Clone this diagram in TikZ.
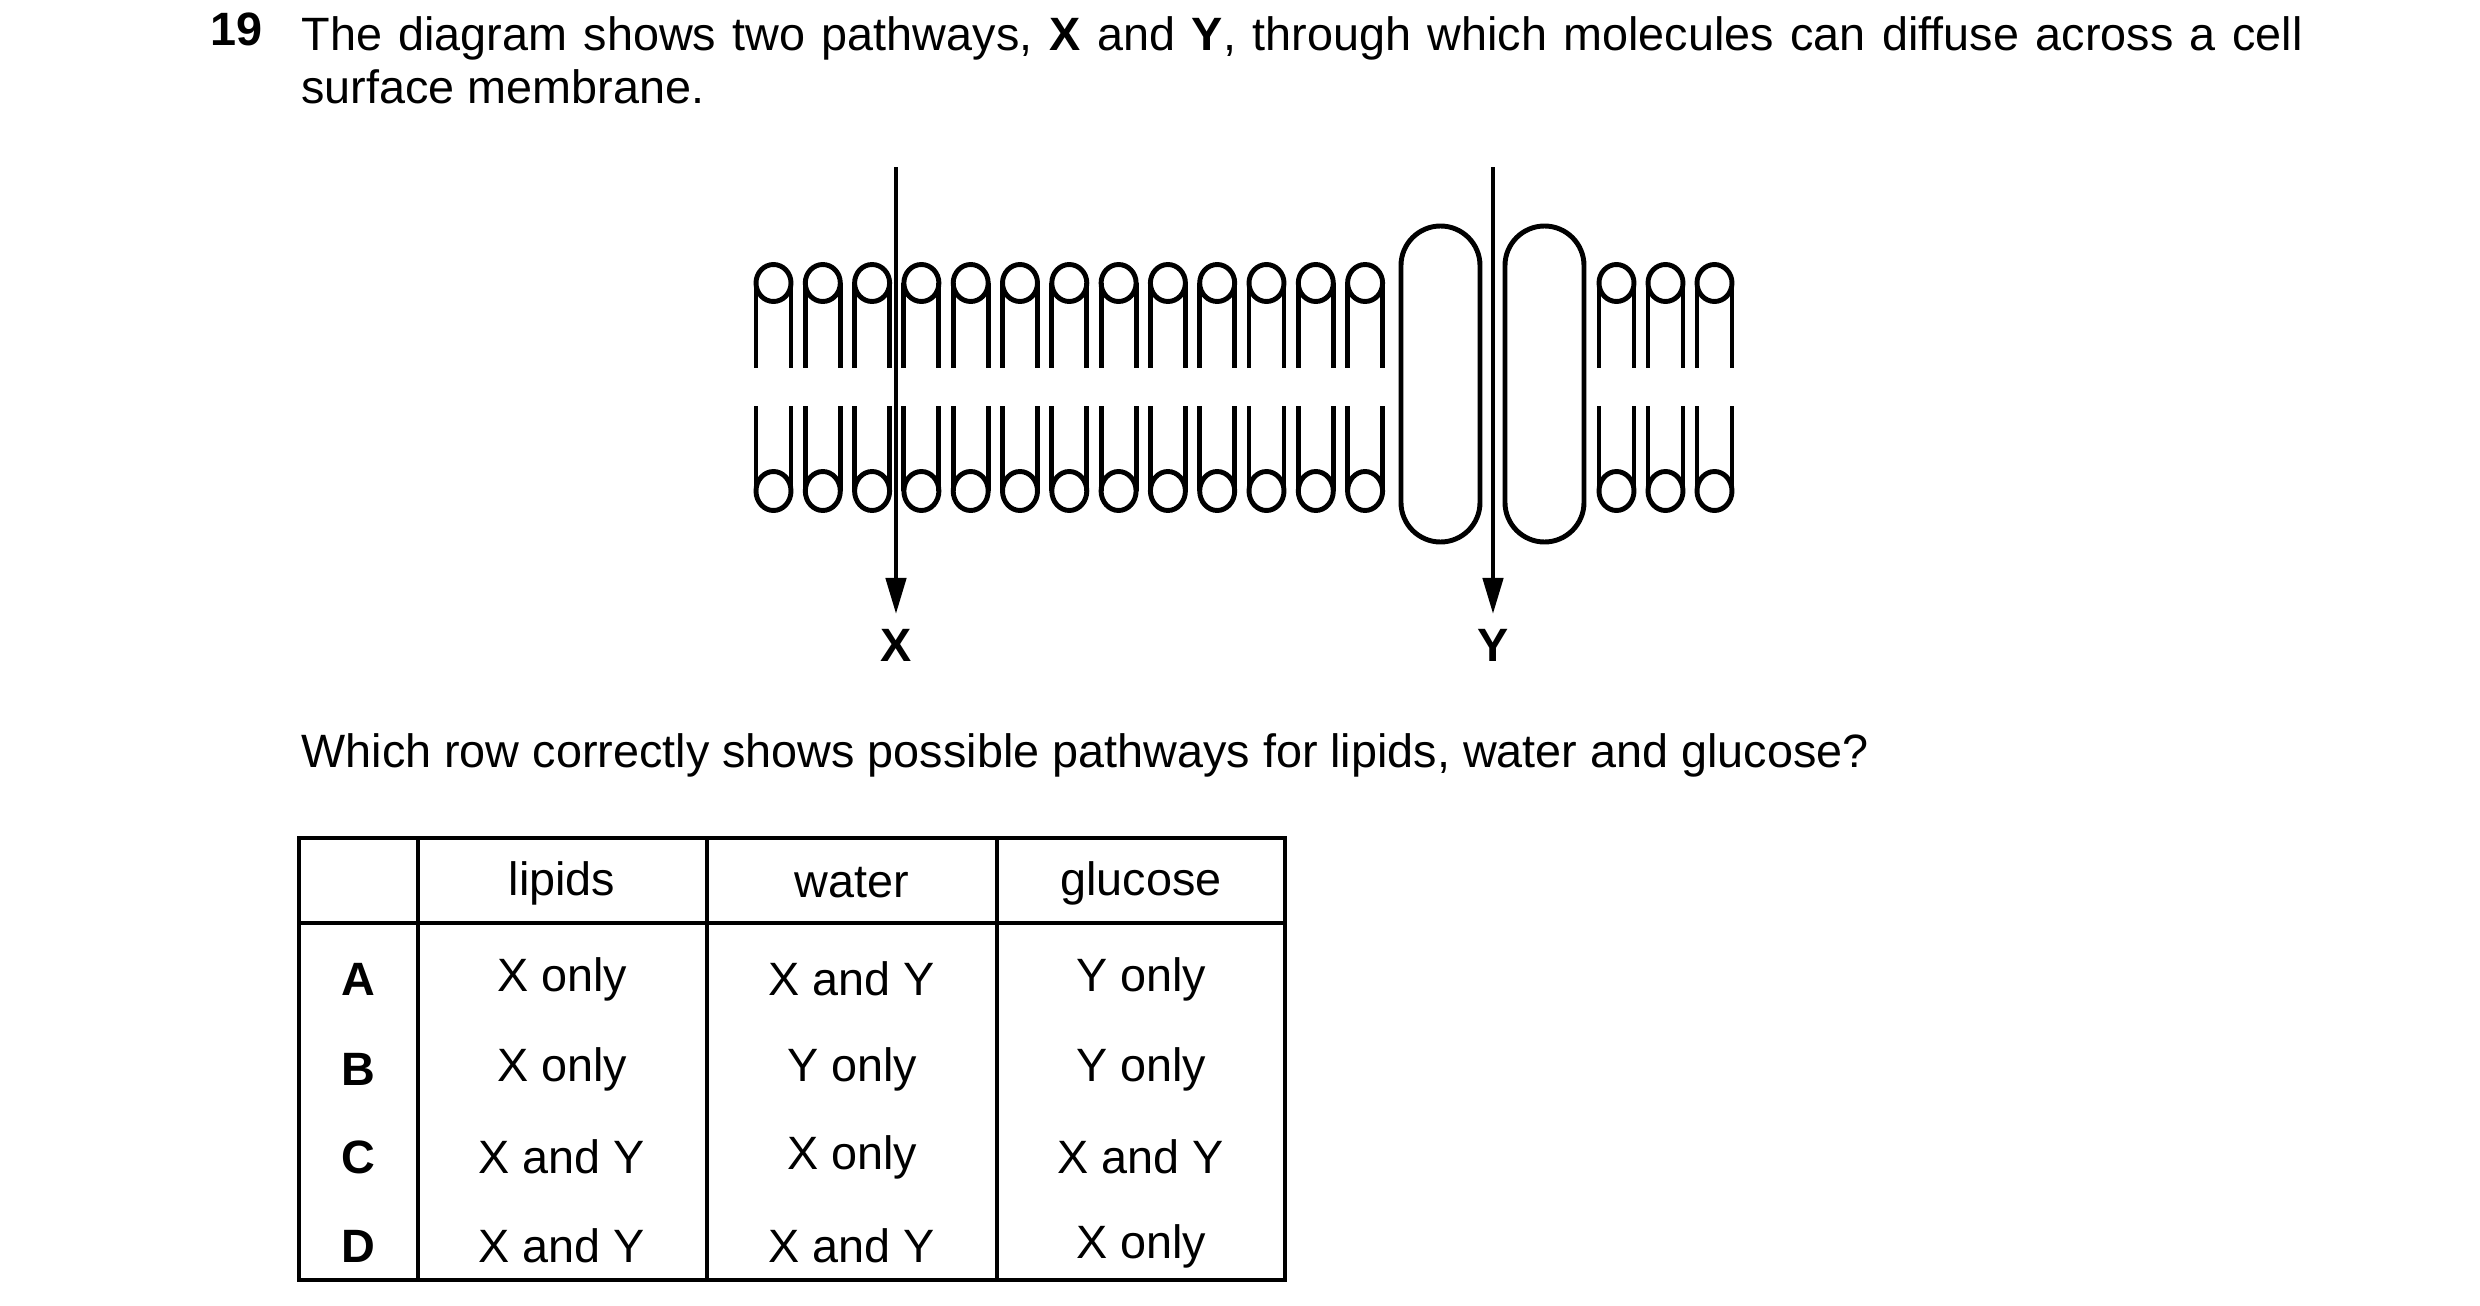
\documentclass[tikz,border=0pt]{standalone}
\usepackage{fontspec}
\setmainfont{Liberation Sans}
\usetikzlibrary{arrows.meta}
\begin{document}
\begin{tikzpicture}[x=0.01cm,y=-0.01cm,line width=1.4pt,
  txt/.style={inner sep=0pt,font=\fontsize{13.3}{15.2}\selectfont},
  bt/.style={inner sep=0pt,font=\fontsize{13.3}{15.2}\selectfont\bfseries},
  pics/up/.style={code={
    \draw (17.5,283) ellipse [x radius=17.5,y radius=18.5];
    \draw (0,283)--(0,368) (35,283)--(35,368);}},
  pics/dn/.style={code={
    \draw (17.5,491) ellipse [x radius=17.5,y radius=19.5];
    \draw (0,491)--(0,406) (35,491)--(35,406);}},
  arr/.style={-{Triangle[length=0.36cm,width=0.2cm]},line width=1.3pt}]
\useasboundingbox (0,0) rectangle (2480,1306);
% text
\node[bt,anchor=base west] (n) at (208,45) {19};
\node[txt,anchor=north west,text width=20cm,align=justify] (q) at (299,14)
 {The diagram shows two pathways, \textbf{X} and \textbf{Y}, through which molecules can diffuse across a cell surface membrane.};
\node[txt,anchor=base west] (q2) at (299,767) {Which row correctly shows possible pathways for lipids, water and glucose?};
% lipids
\foreach \i in {0,...,12}{
  \pic at ({756+49.3*\i},0) {up}; \pic at ({756+49.3*\i},0) {dn};}
\foreach \x in {1599,1648,1697}{
  \pic at (\x,0) {up}; \pic at (\x,0) {dn};}
% proteins
\draw[rounded corners=0.395cm] (1401,226) rectangle (1480,542);
\draw[rounded corners=0.395cm] (1505,226) rectangle (1584,542);
% arrows
\coordinate (xa) at (896,167); \coordinate (xb) at (896,614);
\coordinate (ya) at (1493,167); \coordinate (yb) at (1493,614);
\draw[arr] (xa) -- (xb);
\draw[arr] (ya) -- (yb);
\node[bt] (X) at (896,645) {X};
\node[bt] (Y) at (1493,645) {Y};
% table
\draw[line width=1.2pt] (299,838) rectangle (1285,1280);
\draw[line width=1.2pt] (299,923) -- (1285,923);
\foreach \x in {418,707,997}{\draw[line width=1.2pt] (\x,838) -- (\x,1280);}
\node[txt] (h1) at (562,883) {lipids};
\node[txt] (h2) at (852,883) {water};
\node[txt] (h3) at (1141,883) {glucose};
\foreach \y/\L/\a/\b/\c in {979/A/X only/X and Y/Y only,1069/B/X only/Y only/Y only,1157/C/X and Y/X only/X and Y,1246/D/X and Y/X and Y/X only}{
  \node[bt] at (358,\y) {\L};
  \node[txt] at (562,\y) {\a};
  \node[txt] at (852,\y) {\b};
  \node[txt] at (1141,\y) {\c};}
\end{tikzpicture}
\end{document}
